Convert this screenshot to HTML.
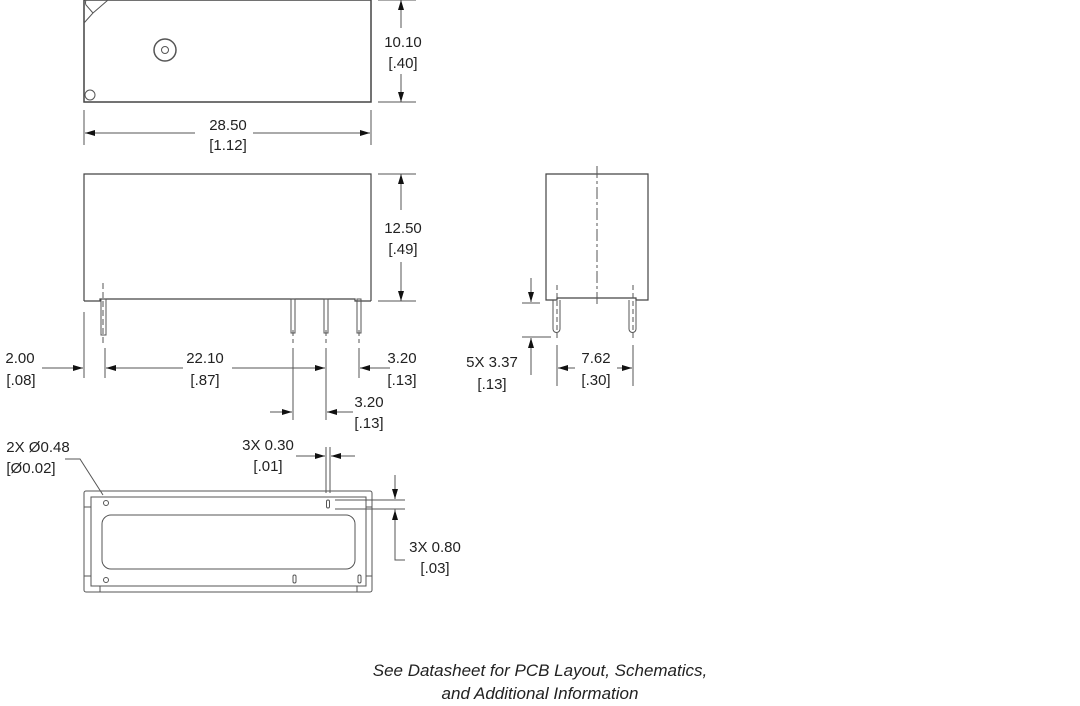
<!DOCTYPE html>
<html><head><meta charset="utf-8"><style>
html,body{margin:0;padding:0;background:#fff;}
svg{display:block;}
text{font-family:"Liberation Sans",sans-serif;font-size:15px;fill:#222;text-anchor:middle;}
.it{font-style:italic;font-size:17px;}
</style></head><body>
<svg width="1080" height="706" viewBox="0 0 1080 706" xmlns="http://www.w3.org/2000/svg">
<defs>
<marker id="a" viewBox="0 0 10 6" refX="10" refY="3" markerWidth="10" markerHeight="6" markerUnits="userSpaceOnUse" orient="auto"><path d="M0,0 L10,3 L0,6 z" fill="#111"/></marker>
</defs>
<g stroke="#555" stroke-width="1" fill="none">
<!-- top view -->
<rect x="84" y="0" width="287" height="102" stroke="#444" stroke-width="1.5"/>
<path d="M84,23 L93,13 L86,5 Q85,3 86,0 M93,13 L108,0"/>
<circle cx="165" cy="50" r="11" stroke-width="1.5"/>
<circle cx="165" cy="50" r="3.5"/>
<circle cx="90" cy="95" r="5"/>
<path d="M378,0 H416 M378,102 H416 M84,110 V145 M371,110 V145"/>
<line x1="401" y1="28" x2="401" y2="0" marker-end="url(#a)"/>
<line x1="401" y1="74" x2="401" y2="102" marker-end="url(#a)"/>
<line x1="195" y1="133" x2="85" y2="133" marker-end="url(#a)"/>
<line x1="253" y1="133" x2="370" y2="133" marker-end="url(#a)"/>
<!-- side view -->
<path d="M84,301 V174 H371 V301 M84,301 H100 V299 H355 V301 H371" stroke="#444" stroke-width="1.2"/>
<rect x="101" y="299" width="5" height="36"/>
<rect x="291" y="299" width="4" height="34"/>
<rect x="324" y="299" width="4" height="34"/>
<rect x="357" y="299" width="4" height="34"/>
<g stroke-dasharray="6,3"><path d="M103,283 V343 M293,330 V343 M326,330 V343 M359,330 V343"/></g>
<path d="M378,174 H416 M378,301 H416"/>
<line x1="401" y1="210" x2="401" y2="174" marker-end="url(#a)"/>
<line x1="401" y1="262" x2="401" y2="301" marker-end="url(#a)"/>
<path d="M84,312 V378 M105,348 V378 M293,348 V420 M326,348 V420 M359,348 V378"/>
<line x1="42" y1="368" x2="83" y2="368" marker-end="url(#a)"/>
<line x1="183" y1="368" x2="106" y2="368" marker-end="url(#a)"/>
<line x1="232" y1="368" x2="325" y2="368" marker-end="url(#a)"/>
<line x1="390" y1="368" x2="360" y2="368" marker-end="url(#a)"/>
<line x1="270" y1="412" x2="292" y2="412" marker-end="url(#a)"/>
<line x1="353" y1="412" x2="327" y2="412" marker-end="url(#a)"/>
<!-- bottom view -->
<rect x="84" y="491" width="288" height="101" rx="2"/>
<rect x="91" y="497" width="275" height="89"/>
<path d="M100,586 V592 M357,586 V592 M84,507 H91 M84,576 H91 M366,507 H372 M366,576 H372"/>
<rect x="102" y="515" width="253" height="54" rx="9"/>
<circle cx="106" cy="503" r="2.5"/>
<circle cx="106" cy="580" r="2.5"/>
<rect x="326.5" y="500" width="3" height="8" rx="1.5"/>
<rect x="293" y="575" width="3" height="8" rx="1.5"/>
<rect x="358" y="575" width="3" height="8" rx="1.5"/>
<path d="M65,459 H80 L103,495"/>
<path d="M326,447 V493 M330,447 V493"/>
<line x1="296" y1="456" x2="325" y2="456" marker-end="url(#a)"/>
<line x1="355" y1="456" x2="331" y2="456" marker-end="url(#a)"/>
<path d="M335,500 H405 M335,509 H405 M395,509 V560 H405"/>
<line x1="395" y1="475" x2="395" y2="499" marker-end="url(#a)"/>
<line x1="395" y1="530" x2="395" y2="510" marker-end="url(#a)"/>
<!-- right view -->
<path d="M546,300 V174 H648 V300 H636 V298 H557 V300 Z" stroke="#444" stroke-width="1.2"/>
<path d="M553,300 V329 a3.5,3.5 0 0 0 7,0 V300"/>
<path d="M629,300 V329 a3.5,3.5 0 0 0 7,0 V300"/>
<g stroke-dasharray="12,3,3,3"><path d="M597,166 V306"/></g>
<g stroke-dasharray="5,3"><path d="M557,285 V340 M633,285 V340"/></g>
<path d="M522,303 H540 M522,337 H551 M557,345 V386 M633,345 V386"/>
<line x1="531" y1="278" x2="531" y2="302" marker-end="url(#a)"/>
<line x1="531" y1="375" x2="531" y2="338" marker-end="url(#a)"/>
<line x1="575" y1="368" x2="558" y2="368" marker-end="url(#a)"/>
<line x1="617" y1="368" x2="632" y2="368" marker-end="url(#a)"/>
</g>
<text x="403" y="47">10.10</text><text x="403" y="68">[.40]</text>
<text x="228" y="130">28.50</text><text x="228" y="150">[1.12]</text>
<text x="403" y="233">12.50</text><text x="403" y="254">[.49]</text>
<text x="20" y="363">2.00</text><text x="21" y="385">[.08]</text>
<text x="205" y="363">22.10</text><text x="205" y="385">[.87]</text>
<text x="402" y="363">3.20</text><text x="402" y="385">[.13]</text>
<text x="369" y="407">3.20</text><text x="369" y="428">[.13]</text>
<text x="38" y="452">2X Ø0.48</text><text x="31" y="473">[Ø0.02]</text>
<text x="268" y="450">3X 0.30</text><text x="268" y="471">[.01]</text>
<text x="435" y="552">3X 0.80</text><text x="435" y="573">[.03]</text>
<text x="492" y="367">5X 3.37</text><text x="492" y="389">[.13]</text>
<text x="596" y="363">7.62</text><text x="596" y="385">[.30]</text>
<text class="it" x="540" y="676">See Datasheet for PCB Layout, Schematics,</text>
<text class="it" x="540" y="699">and Additional Information</text>
</svg>
</body></html>
